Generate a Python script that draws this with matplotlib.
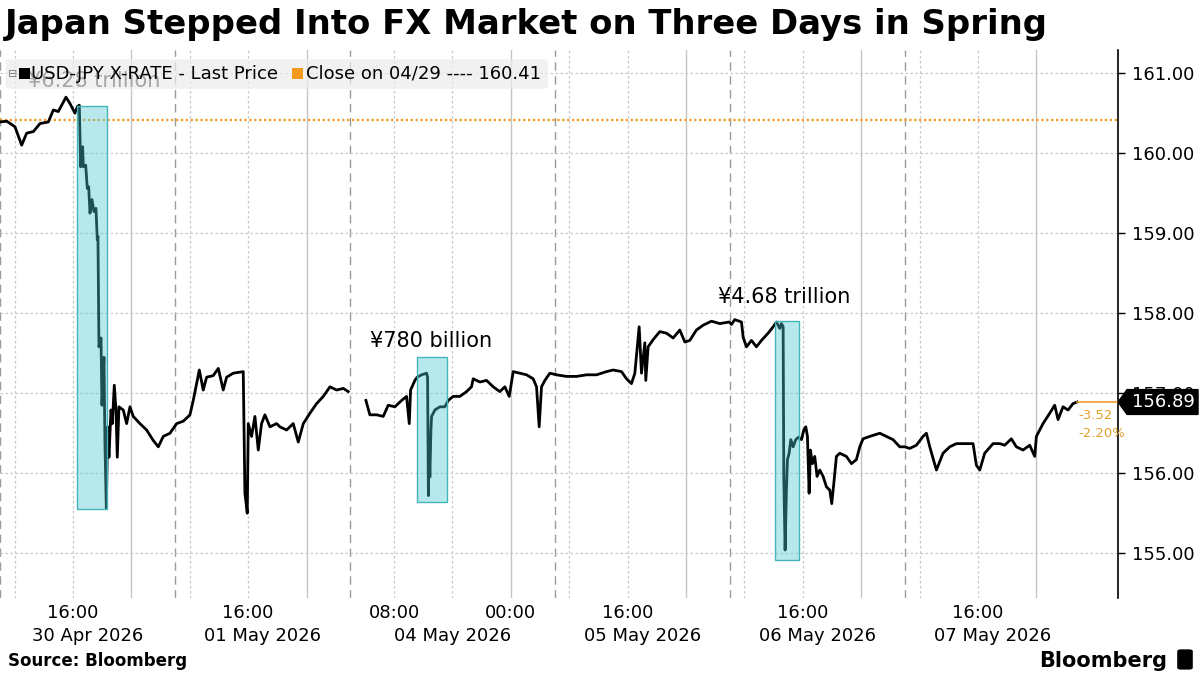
import numpy as np
import matplotlib
matplotlib.use("Agg")
import matplotlib.pyplot as plt
from matplotlib.patches import Rectangle, FancyBboxPatch, Polygon
from matplotlib.transforms import blended_transform_factory

# x is trading time in hours from 06:00 30 Apr (weekend removed)
session_1 = [
    (0.00, 160.39), (0.91, 160.40), (2.05, 160.33), (2.97, 160.10), (3.65, 160.25),
    (4.57, 160.27), (5.48, 160.37), (6.62, 160.39), (7.31, 160.54), (7.99, 160.52),
    (9.04, 160.70), (9.59, 160.62), (10.27, 160.50), (10.59, 160.58), (10.87, 160.60),
    (11.05, 159.83), (11.32, 160.08), (11.42, 159.83), (11.74, 159.85), (11.96, 159.56),
    (12.15, 159.58), (12.33, 159.25), (12.60, 159.42), (12.88, 159.27), (13.15, 159.31),
    (13.33, 158.92), (13.42, 158.96), (13.56, 157.58), (13.84, 157.69), (13.97, 156.85),
    (14.25, 157.45), (14.38, 156.37), (14.57, 155.56), (14.75, 156.58), (14.93, 156.20),
    (15.21, 156.79), (15.39, 156.62), (15.66, 157.10), (15.89, 156.79), (16.07, 156.20),
    (16.30, 156.83), (16.89, 156.79), (17.35, 156.62), (17.81, 156.83), (18.26, 156.71),
    (19.18, 156.62), (20.09, 156.54), (21.00, 156.41), (21.69, 156.33), (22.37, 156.46),
    (23.29, 156.50), (24.20, 156.62), (25.11, 156.65), (26.03, 156.73), (26.48, 156.91),
    (26.94, 157.12), (27.31, 157.29), (27.85, 157.04), (28.31, 157.20), (29.22, 157.22),
    (29.91, 157.31), (30.59, 157.04), (31.05, 157.20), (31.96, 157.25), (33.33, 157.27),
    (33.56, 155.75), (33.88, 155.50), (34.02, 156.62), (34.47, 156.46), (34.93, 156.71),
    (35.39, 156.29), (35.84, 156.62), (36.30, 156.73), (36.99, 156.58), (37.90, 156.62),
    (38.36, 156.58), (39.27, 156.54), (40.18, 156.62), (40.87, 156.39), (41.56, 156.62),
    (42.47, 156.75), (43.38, 156.87), (44.30, 156.96), (45.21, 157.08), (46.12, 157.04),
    (47.04, 157.06), (47.72, 157.02),
]
session_2 = [
    (50.14, 156.91), (50.68, 156.73), (51.60, 156.73), (52.51, 156.71), (53.20, 156.85),
    (54.11, 156.83), (55.03, 156.91), (55.71, 156.96), (56.08, 156.62), (56.26, 157.04),
    (56.85, 157.16), (57.17, 157.20), (57.77, 157.23), (58.45, 157.25), (58.59, 157.20),
    (58.70, 155.72), (58.80, 156.40), (58.90, 155.95), (59.05, 156.55), (59.14, 156.71),
    (59.59, 156.79), (60.27, 156.83), (60.96, 156.83), (61.42, 156.91), (62.10, 156.96),
    (63.01, 156.96), (63.93, 157.02), (64.61, 157.08), (64.84, 157.18), (65.76, 157.14),
    (66.67, 157.16), (67.58, 157.08), (68.49, 157.02), (69.18, 157.08), (69.78, 156.96),
    (70.32, 157.27), (71.23, 157.25), (72.15, 157.23), (73.06, 157.18), (73.52, 157.08),
    (73.88, 156.58), (74.20, 157.08), (74.66, 157.16), (75.34, 157.25), (76.26, 157.23),
    (77.63, 157.21), (79.00, 157.21), (80.37, 157.23), (81.74, 157.23), (83.11, 157.27),
    (84.02, 157.29), (85.16, 157.27), (85.85, 157.18), (86.53, 157.12), (86.99, 157.25),
    (87.58, 157.83), (87.90, 157.25), (88.36, 157.63), (88.49, 157.16), (88.81, 157.58),
    (89.50, 157.67), (90.41, 157.77), (91.33, 157.75), (92.24, 157.69), (93.15, 157.79),
    (93.84, 157.64), (94.52, 157.66), (95.43, 157.79), (96.35, 157.85), (97.49, 157.90),
    (98.63, 157.87), (99.91, 157.89), (100.23, 157.86), (100.68, 157.92), (101.60, 157.89),
    (101.83, 157.70), (102.28, 157.58), (102.97, 157.66), (103.65, 157.58), (104.34, 157.66),
    (105.25, 157.75), (105.94, 157.83), (106.39, 157.89), (106.85, 157.81), (107.08, 157.87),
    (107.31, 157.83), (107.40, 155.95), (107.58, 155.04), (107.76, 155.79), (107.90, 156.17),
    (108.13, 156.25), (108.36, 156.42), (108.68, 156.33), (109.04, 156.42), (109.41, 156.45),
    (109.82, 156.42), (110.14, 156.54), (110.41, 156.58), (110.64, 156.46), (110.87, 155.75),
    (111.05, 156.29), (111.32, 156.12), (111.64, 156.21), (111.96, 155.96), (112.33, 156.04),
    (112.79, 155.96), (113.24, 155.83), (113.70, 155.79), (113.97, 155.62), (114.25, 155.87),
    (114.61, 156.21), (115.07, 156.25), (115.98, 156.21), (116.67, 156.12), (117.35, 156.17),
    (117.81, 156.33), (118.26, 156.43), (119.18, 156.46), (120.55, 156.50), (121.46, 156.46),
    (122.37, 156.42), (123.29, 156.33), (123.97, 156.33), (124.66, 156.31), (125.57, 156.35),
    (126.48, 156.46), (126.94, 156.50), (127.40, 156.33), (128.31, 156.04), (129.22, 156.25),
    (130.14, 156.33), (131.05, 156.37), (131.96, 156.37), (132.88, 156.37), (133.33, 156.37),
    (133.79, 156.10), (134.25, 156.04), (134.93, 156.25), (136.07, 156.37), (136.99, 156.37),
    (137.67, 156.35), (138.58, 156.43), (139.27, 156.33), (140.18, 156.29), (141.10, 156.35),
    (141.78, 156.21), (142.01, 156.46), (142.92, 156.62), (143.84, 156.75), (144.52, 156.85),
    (144.98, 156.67), (145.66, 156.83), (146.35, 156.79), (147.03, 156.87), (147.58, 156.89),
]

close_0429 = 160.41
last_price = 156.89
change_txt = ["-3.52", "-2.20%"]

# intervention windows: (start, end, low, high)
interventions = [(10.59, 14.62, 155.55, 160.59),
                 (57.2, 61.3, 155.64, 157.45),
                 (106.2, 109.5, 154.91, 157.90)]
int_labels = ["¥6.28 trillion", "¥780 billion", "¥4.68 trillion"]
int_label_pos = [(3.8, 160.90), (50.7, 157.65), (98.4, 158.20)]

time_ticks = [10, 34, 54, 70, 86, 110, 134]
time_labels = ["16:00", "16:00", "08:00", "00:00", "16:00", "16:00", "16:00"]
date_ticks = [12, 36, 62, 88, 112, 136]
date_labels = ["30 Apr 2026", "01 May 2026", "04 May 2026",
               "05 May 2026", "06 May 2026", "07 May 2026"]

day_starts = [0, 24, 48, 76, 100, 124]
midnights = [18, 42, 70, 94, 118, 142]
hour_marks = [2, 10, 26, 34, 54, 62, 78, 86, 102, 110, 126, 134]

fig = plt.figure(figsize=(12, 6.75), dpi=100)
ax = fig.add_axes([0.0, 0.114, 0.9317, 0.812])

for x in day_starts:
    ax.axvline(x, color="#9a9a9a", lw=1, ls=(0, (6, 4)), zorder=1)
for x in midnights:
    ax.axvline(x, color="#c4c4c4", lw=1, zorder=1)
for x in hour_marks:
    ax.axvline(x, color="#c8c8c8", lw=0.9, ls=(0, (2, 2)), zorder=1)
for y in range(155, 162):
    ax.axhline(y, color="#c8c8c8", lw=0.9, ls=(0, (2, 2)), zorder=1)

ax.axhline(close_0429, color="#f39a1e", lw=1.6, ls=(0, (1, 1.2)), zorder=2)

for seg in (session_1, session_2):
    t, p = zip(*seg)
    ax.plot(t, p, color="black", lw=2.0, zorder=3)

for x0, x1, lo, hi in interventions:
    ax.add_patch(Rectangle((x0, lo), x1 - x0, hi - lo, facecolor="#4dc8d0",
                           alpha=0.4, edgecolor="none", zorder=4))
    ax.add_patch(Rectangle((x0, lo), x1 - x0, hi - lo, facecolor="none",
                           edgecolor="#45b5bc", lw=1, zorder=4))

for lab, (x, y) in zip(int_labels, int_label_pos):
    ax.text(x, y, lab, fontsize=15, ha="left", va="center", color="black", zorder=5)

ax.set_xlim(0, 153.2)
ax.set_ylim(154.44, 161.29)

ax.yaxis.tick_right()
ax.set_yticks(range(155, 162))
ax.set_yticklabels([f"{v:.2f}" for v in range(155, 162)])
ax.tick_params(axis="y", length=5, width=1, colors="black", labelsize=13, pad=5)

ax.set_xticks(time_ticks)
ax.set_xticklabels(time_labels)
ax.set_xticks(date_ticks, minor=True)
ax.set_xticklabels(date_labels, minor=True)
ax.tick_params(axis="x", which="major", length=0, labelsize=13, pad=4)
ax.tick_params(axis="x", which="minor", length=0, labelsize=13, pad=21)

for s in ["top", "left", "bottom"]:
    ax.spines[s].set_visible(False)
ax.spines["right"].set_color("black")
ax.spines["right"].set_linewidth(1.2)

# change vs close and last price tag
trans = blended_transform_factory(ax.transAxes, ax.transData)
last_t = session_2[-1][0]
ax.plot([last_t, 153.2], [last_price, last_price], color="#f0a030", lw=1.2, zorder=3,
        clip_on=False)
ax.text(last_t + 0.2, last_price - 0.17, change_txt[0], color="#e0a030", fontsize=9.5,
        ha="left", va="center", zorder=5)
ax.text(last_t + 0.2, last_price - 0.39, change_txt[1], color="#e0a030", fontsize=9.5,
        ha="left", va="center", zorder=5)
w = 1 / 1118
h = 0.155
ax.add_patch(Polygon([(1.0, last_price), (1.0 + 9 * w, last_price + h),
                      (1.0 + 80 * w, last_price + h), (1.0 + 80 * w, last_price - h),
                      (1.0 + 9 * w, last_price - h)], closed=True, transform=trans,
                     facecolor="black", edgecolor="black", clip_on=False, zorder=6))
ax.text(1.0 + 45 * w, last_price, f"{last_price:.2f}", transform=trans, color="white",
        fontsize=13, ha="center", va="center", zorder=7)

# legend strip
ax.add_patch(FancyBboxPatch((0.005, 0.929), 0.485, 0.054, transform=ax.transAxes,
                            boxstyle="round,pad=0,rounding_size=0.004",
                            facecolor="#ececec", edgecolor="none", alpha=0.7,
                            clip_on=False, zorder=8))
ax.text(0.007, 0.957, "⊟", transform=ax.transAxes, fontsize=8, color="#777777",
        ha="left", va="center", zorder=9)
ax.add_patch(Rectangle((0.017, 0.947), 0.010, 0.020, transform=ax.transAxes,
                       facecolor="black", clip_on=False, zorder=9))
ax.text(0.028, 0.957, "USD-JPY X-RATE - Last Price", transform=ax.transAxes,
        fontsize=13, ha="left", va="center", zorder=9)
ax.add_patch(Rectangle((0.261, 0.947), 0.010, 0.020, transform=ax.transAxes,
                       facecolor="#f39a1e", clip_on=False, zorder=9))
ax.text(0.2735, 0.957, f"Close on 04/29 ---- {close_0429:.2f}", transform=ax.transAxes,
        fontsize=13, ha="left", va="center", zorder=9)

fig.text(0.004, 0.963, "Japan Stepped Into FX Market on Three Days in Spring",
         fontsize=24.4, fontweight="bold", ha="left", va="center")
fig.text(0.007, 0.021, "Source: Bloomberg", fontsize=12, fontweight="bold",
         ha="left", va="center")
fig.text(0.973, 0.021, "Bloomberg", fontsize=15, fontweight="bold",
         ha="right", va="center")
fig.patches.append(FancyBboxPatch((0.981, 0.008), 0.013, 0.03, transform=fig.transFigure,
                                  boxstyle="round,pad=0,rounding_size=0.003",
                                  facecolor="black", edgecolor="none", figure=fig))

fig.savefig("out.png", dpi=100)
